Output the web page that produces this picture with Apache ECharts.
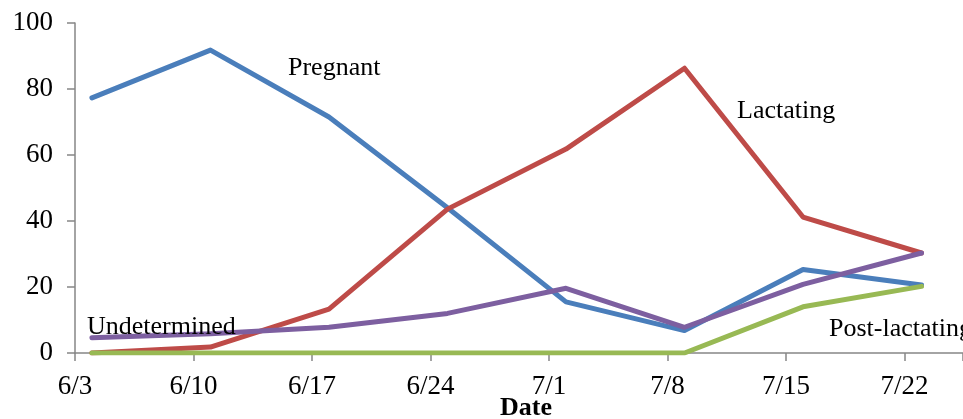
<!DOCTYPE html>
<html>
<head>
<meta charset="utf-8">
<script src="https://cdn.jsdelivr.net/npm/echarts@6/dist/echarts.min.js"></script>
<style>
  html, body { margin: 0; padding: 0; background: #fff; }
  #chart { width: 963px; height: 419px; }
</style>
</head>
<body>
<div id="chart"></div>
<script>
// Weekly sampling dates, expressed as days after 6/3
const sampleDays = [1, 8, 15, 22, 29, 36, 43, 50];
// Tick labels for the weekly x-axis ticks (days 0, 7, 14, ...)
const tickLabels = ['6/3', '6/10', '6/17', '6/24', '7/1', '7/8', '7/15', '7/22'];

// Percent of females in each reproductive state
const pregnant      = [77.3, 91.8, 71.5, 44.0, 15.5, 6.8, 25.3, 20.6];
const lactating     = [0, 1.8, 13.3, 43.6, 61.8, 86.3, 41.2, 30.3];
const postLactating = [0, 0, 0, 0, 0, 0, 14.0, 20.2];
const undetermined  = [4.6, 5.8, 7.8, 12.0, 19.6, 7.8, 20.8, 30.3];

const FONT = '"Liberation Serif", "Times New Roman", serif';
const AXIS_GRAY = '#868686';

function pairs(values) {
  return sampleDays.map((d, i) => [d, values[i]]);
}

function lineSeries(name, values, color) {
  return {
    name: name,
    type: 'line',
    data: pairs(values),
    showSymbol: false,
    symbol: 'none',
    lineStyle: { color: color, width: 5, cap: 'round', join: 'round' },
    itemStyle: { color: color },
    animation: false
  };
}

function label(text, x, y, opts) {
  return Object.assign({
    type: 'text',
    x: x,
    y: y,
    z: 100,
    style: {
      text: text,
      font: '26px ' + FONT,
      fill: '#000',
      align: 'left',
      verticalAlign: 'middle'
    }
  }, opts || {});
}

const chart = echarts.init(document.getElementById('chart'), null, { renderer: 'canvas' });

chart.setOption({
  backgroundColor: '#fff',
  animation: false,
  grid: {
    left: 75, right: 0, top: 23, bottom: 66,
    containLabel: false,
    outerBoundsMode: 'none'
  },
  xAxis: {
    type: 'value',
    min: 0,
    max: 52.45,
    interval: 7,
    axisLine: { show: true, lineStyle: { color: AXIS_GRAY, width: 1.5 } },
    axisTick: { show: true, inside: false, length: 8, lineStyle: { color: AXIS_GRAY, width: 1.5 } },
    splitLine: { show: false },
    axisLabel: {
      margin: 20,
      fontFamily: FONT,
      fontSize: 27,
      color: '#000',
      formatter: function (v) {
        const k = v / 7;
        return Math.abs(k - Math.round(k)) < 1e-6 ? (tickLabels[Math.round(k)] || '') : '';
      }
    }
  },
  yAxis: {
    type: 'value',
    min: 0,
    max: 100,
    interval: 20,
    axisLine: { show: true, lineStyle: { color: AXIS_GRAY, width: 1.5 } },
    axisTick: { show: true, inside: false, length: 8, lineStyle: { color: AXIS_GRAY, width: 1.5 } },
    splitLine: { show: false },
    axisLabel: {
      margin: 22,
      fontFamily: FONT,
      fontSize: 27,
      color: '#000'
    }
  },
  series: [
    lineSeries('Pregnant', pregnant, '#4A7EBB'),
    lineSeries('Lactating', lactating, '#BE4B48'),
    lineSeries('Post-lactating', postLactating, '#98B954'),
    lineSeries('Undetermined', undetermined, '#7D5FA0')
  ],
  graphic: [
    label('Pregnant', 288, 68),
    label('Lactating', 737, 111),
    label('Undetermined', 87, 327),
    label('Post-lactating', 829, 329),
    label('Date', 526, 408, {
      style: {
        text: 'Date',
        font: 'bold 26px ' + FONT,
        fill: '#000',
        align: 'center',
        verticalAlign: 'middle'
      }
    })
  ]
});
</script>
</body>
</html>
